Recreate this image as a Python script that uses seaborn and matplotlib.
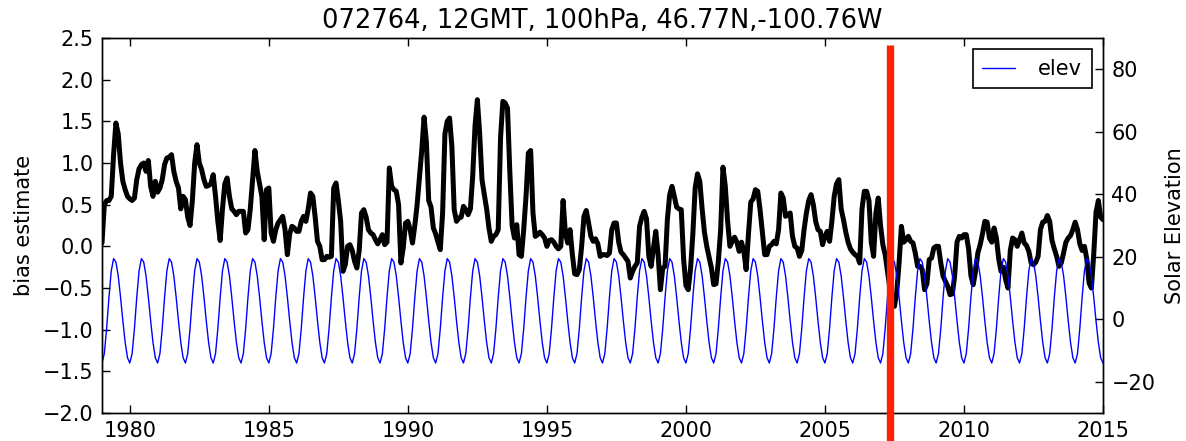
import numpy as np
import pandas as pd
import matplotlib
matplotlib.use("Agg")
import matplotlib.pyplot as plt
import seaborn as sns

# ---------------- data ----------------
title = "072764, 12GMT, 100hPa, 46.77N,-100.76W"
first_year = 1979
break_date = 2007.33  # red vertical marker

bias = [
    0.04, 0.50, 0.55, 0.55, 0.60, 1.10, 1.48, 1.35, 1.00, 0.78, 0.68, 0.60,   # 1979
    0.57, 0.55, 0.58, 0.80, 0.93, 0.98, 1.00, 0.90, 1.03, 0.72, 0.60, 0.78,   # 1980
    0.65, 0.70, 0.80, 0.98, 1.06, 1.07, 1.10, 0.90, 0.78, 0.70, 0.45, 0.60,   # 1981
    0.56, 0.35, 0.25, 0.55, 1.00, 1.22, 1.00, 0.92, 0.80, 0.72, 0.73, 0.75,   # 1982
    0.86, 0.60, 0.30, 0.07, 0.45, 0.75, 0.82, 0.60, 0.45, 0.42, 0.38, 0.42,   # 1983
    0.42, 0.42, 0.16, 0.20, 0.45, 0.80, 1.15, 0.90, 0.75, 0.60, 0.08, 0.68,   # 1984
    0.70, 0.16, 0.06, 0.20, 0.28, 0.32, 0.36, 0.20, -0.10, 0.15, 0.24, 0.22,  # 1985
    0.18, 0.18, 0.30, 0.36, 0.30, 0.45, 0.64, 0.60, 0.35, 0.06, 0.00, -0.16,  # 1986
    -0.16, -0.12, -0.13, -0.12, 0.70, 0.76, 0.55, 0.30, -0.30, -0.22, 0.00, 0.02,  # 1987
    -0.05, -0.18, -0.26, -0.05, 0.40, 0.44, 0.35, 0.20, 0.16, 0.14, 0.08, 0.03,   # 1988
    0.08, 0.14, 0.02, 0.05, 0.94, 0.72, 0.68, 0.66, 0.50, -0.20, -0.02, 0.28,  # 1989
    0.30, 0.20, 0.04, 0.25, 0.50, 0.82, 1.15, 1.55, 1.25, 0.55, 0.47, 0.22,   # 1990
    0.15, 0.05, -0.04, 0.40, 1.35, 1.50, 1.54, 1.20, 0.44, 0.30, 0.34, 0.35,  # 1991
    0.48, 0.44, 0.38, 0.45, 0.85, 1.45, 1.76, 1.35, 0.80, 0.62, 0.45, 0.22,   # 1992
    0.06, 0.12, 0.14, 0.20, 1.30, 1.74, 1.72, 1.66, 0.90, 0.25, 0.10, 0.26,   # 1993
    -0.10, -0.12, 0.20, 0.60, 1.12, 1.15, 0.40, 0.12, 0.14, 0.17, 0.14, 0.10,  # 1994
    0.00, 0.07, 0.08, 0.05, 0.00, -0.03, 0.00, 0.55, 0.15, 0.04, 0.20, -0.10,  # 1995
    -0.33, -0.34, -0.28, 0.00, 0.36, 0.43, 0.28, 0.12, 0.06, 0.09, 0.03, -0.12,  # 1996
    -0.10, -0.10, -0.11, -0.08, 0.20, 0.28, 0.28, 0.05, -0.07, -0.10, -0.14, -0.18,  # 1997
    -0.38, -0.30, -0.24, -0.20, 0.24, 0.35, 0.42, 0.33, -0.12, -0.24, -0.02, 0.18,  # 1998
    -0.10, -0.52, -0.26, -0.24, 0.32, 0.62, 0.72, 0.60, 0.47, 0.45, 0.44, -0.15,  # 1999
    -0.47, -0.52, -0.27, 0.15, 0.70, 0.87, 0.78, 0.45, 0.17, 0.00, -0.13, -0.26,  # 2000
    -0.46, -0.45, -0.18, 0.20, 0.95, 0.72, 0.30, 0.00, 0.06, 0.11, 0.05, -0.06,   # 2001
    0.05, -0.06, -0.28, 0.15, 0.53, 0.57, 0.68, 0.66, 0.44, 0.17, -0.10, -0.10,   # 2002
    0.00, 0.02, 0.06, 0.03, 0.20, 0.64, 0.58, 0.36, 0.38, 0.40, 0.12, 0.00,    # 2003
    -0.02, -0.12, -0.05, 0.20, 0.40, 0.55, 0.62, 0.50, 0.30, 0.20, 0.18, 0.02,  # 2004
    0.12, 0.18, 0.06, 0.30, 0.60, 0.75, 0.80, 0.45, 0.32, 0.17, 0.05, -0.03,   # 2005
    -0.07, -0.10, -0.12, -0.20, 0.45, 0.66, 0.66, 0.55, 0.05, -0.12, 0.40, 0.58,  # 2006
    0.25, 0.02, -0.10, -0.30, -0.50, -0.65, -0.72, -0.55, -0.20, 0.24, 0.05, 0.08,  # 2007
    0.12, 0.06, 0.04, -0.08, -0.24, -0.24, -0.28, -0.52, -0.45, -0.16, -0.14, -0.02,  # 2008
    0.00, 0.00, -0.20, -0.36, -0.42, -0.48, -0.58, -0.57, -0.35, 0.05, 0.12, 0.10,  # 2009
    0.14, 0.14, -0.03, -0.35, -0.46, -0.30, -0.08, 0.02, 0.15, 0.30, 0.29, 0.10,  # 2010
    0.05, 0.22, 0.10, -0.15, -0.30, -0.25, -0.40, -0.50, -0.05, 0.10, 0.08, 0.00,  # 2011
    0.08, 0.16, 0.04, 0.01, -0.06, -0.20, -0.22, -0.19, -0.12, 0.20, 0.29, 0.30,  # 2012
    0.37, 0.30, 0.07, -0.03, -0.12, -0.24, -0.20, -0.08, 0.05, 0.10, 0.13, 0.20,  # 2013
    0.29, 0.20, 0.03, -0.05, 0.00, -0.15, -0.44, -0.50, -0.10, 0.41, 0.55, 0.35,  # 2014
    0.32,                                                                     # 2015-01
]

elev = [
    -14.0, -11.0, -3.0, 7.0, 15.5, 19.4, 18.3, 13.9, 7.1, -0.5, -7.4, -12.3,  # 1979
    -14.0, -11.0, -3.0, 7.0, 15.5, 19.4, 18.3, 13.9, 7.1, -0.5, -7.4, -12.3,  # 1980
    -14.0, -11.0, -3.0, 7.0, 15.5, 19.4, 18.3, 13.9, 7.1, -0.5, -7.4, -12.3,  # 1981
    -14.0, -11.0, -3.0, 7.0, 15.5, 19.4, 18.3, 13.9, 7.1, -0.5, -7.4, -12.3,  # 1982
    -14.0, -11.0, -3.0, 7.0, 15.5, 19.4, 18.3, 13.9, 7.1, -0.5, -7.4, -12.3,  # 1983
    -14.0, -11.0, -3.0, 7.0, 15.5, 19.4, 18.3, 13.9, 7.1, -0.5, -7.4, -12.3,  # 1984
    -14.0, -11.0, -3.0, 7.0, 15.5, 19.4, 18.3, 13.9, 7.1, -0.5, -7.4, -12.3,  # 1985
    -14.0, -11.0, -3.0, 7.0, 15.5, 19.4, 18.3, 13.9, 7.1, -0.5, -7.4, -12.3,  # 1986
    -14.0, -11.0, -3.0, 7.0, 15.5, 19.4, 18.3, 13.9, 7.1, -0.5, -7.4, -12.3,  # 1987
    -14.0, -11.0, -3.0, 7.0, 15.5, 19.4, 18.3, 13.9, 7.1, -0.5, -7.4, -12.3,  # 1988
    -14.0, -11.0, -3.0, 7.0, 15.5, 19.4, 18.3, 13.9, 7.1, -0.5, -7.4, -12.3,  # 1989
    -14.0, -11.0, -3.0, 7.0, 15.5, 19.4, 18.3, 13.9, 7.1, -0.5, -7.4, -12.3,  # 1990
    -14.0, -11.0, -3.0, 7.0, 15.5, 19.4, 18.3, 13.9, 7.1, -0.5, -7.4, -12.3,  # 1991
    -14.0, -11.0, -3.0, 7.0, 15.5, 19.4, 18.3, 13.9, 7.1, -0.5, -7.4, -12.3,  # 1992
    -14.0, -11.0, -3.0, 7.0, 15.5, 19.4, 18.3, 13.9, 7.1, -0.5, -7.4, -12.3,  # 1993
    -14.0, -11.0, -3.0, 7.0, 15.5, 19.4, 18.3, 13.9, 7.1, -0.5, -7.4, -12.3,  # 1994
    -14.0, -11.0, -3.0, 7.0, 15.5, 19.4, 18.3, 13.9, 7.1, -0.5, -7.4, -12.3,  # 1995
    -14.0, -11.0, -3.0, 7.0, 15.5, 19.4, 18.3, 13.9, 7.1, -0.5, -7.4, -12.3,  # 1996
    -14.0, -11.0, -3.0, 7.0, 15.5, 19.4, 18.3, 13.9, 7.1, -0.5, -7.4, -12.3,  # 1997
    -14.0, -11.0, -3.0, 7.0, 15.5, 19.4, 18.3, 13.9, 7.1, -0.5, -7.4, -12.3,  # 1998
    -14.0, -11.0, -3.0, 7.0, 15.5, 19.4, 18.3, 13.9, 7.1, -0.5, -7.4, -12.3,  # 1999
    -14.0, -11.0, -3.0, 7.0, 15.5, 19.4, 18.3, 13.9, 7.1, -0.5, -7.4, -12.3,  # 2000
    -14.0, -11.0, -3.0, 7.0, 15.5, 19.4, 18.3, 13.9, 7.1, -0.5, -7.4, -12.3,  # 2001
    -14.0, -11.0, -3.0, 7.0, 15.5, 19.4, 18.3, 13.9, 7.1, -0.5, -7.4, -12.3,  # 2002
    -14.0, -11.0, -3.0, 7.0, 15.5, 19.4, 18.3, 13.9, 7.1, -0.5, -7.4, -12.3,  # 2003
    -14.0, -11.0, -3.0, 7.0, 15.5, 19.4, 18.3, 13.9, 7.1, -0.5, -7.4, -12.3,  # 2004
    -14.0, -11.0, -3.0, 7.0, 15.5, 19.4, 18.3, 13.9, 7.1, -0.5, -7.4, -12.3,  # 2005
    -14.0, -11.0, -3.0, 7.0, 15.5, 19.4, 18.3, 13.9, 7.1, -0.5, -7.4, -12.3,  # 2006
    -14.0, -11.0, -3.0, 7.0, 15.5, 19.4, 18.3, 13.9, 7.1, -0.5, -7.4, -12.3,  # 2007
    -14.0, -11.0, -3.0, 7.0, 15.5, 19.4, 18.3, 13.9, 7.1, -0.5, -7.4, -12.3,  # 2008
    -14.0, -11.0, -3.0, 7.0, 15.5, 19.4, 18.3, 13.9, 7.1, -0.5, -7.4, -12.3,  # 2009
    -14.0, -11.0, -3.0, 7.0, 15.5, 19.4, 18.3, 13.9, 7.1, -0.5, -7.4, -12.3,  # 2010
    -14.0, -11.0, -3.0, 7.0, 15.5, 19.4, 18.3, 13.9, 7.1, -0.5, -7.4, -12.3,  # 2011
    -14.0, -11.0, -3.0, 7.0, 15.5, 19.4, 18.3, 13.9, 7.1, -0.5, -7.4, -12.3,  # 2012
    -14.0, -11.0, -3.0, 7.0, 15.5, 19.4, 18.3, 13.9, 7.1, -0.5, -7.4, -12.3,  # 2013
    -14.0, -11.0, -3.0, 7.0, 15.5, 19.4, 18.3, 13.9, 7.1, -0.5, -7.4, -12.3,  # 2014
    -14.0,                                                                     # 2015-01
]

left_ticks = [-2.0, -1.5, -1.0, -0.5, 0.0, 0.5, 1.0, 1.5, 2.0, 2.5]
right_ticks = [-20, 0, 20, 40, 60, 80]
x_ticks = [1980, 1985, 1990, 1995, 2000, 2005, 2010, 2015]

# ---------------- figure ----------------
sns.set_style("ticks", {"xtick.direction": "in", "ytick.direction": "in",
                        "axes.edgecolor": "black", "text.color": "black",
                        "axes.labelcolor": "black", "xtick.color": "black",
                        "ytick.color": "black"})
plt.rcParams["font.family"] = ["DejaVu Sans"]
plt.rcParams["axes.unicode_minus"] = True

# decimal-year time axis: one value per month
t = first_year + np.arange(len(bias)) / 12.0
df = pd.DataFrame({"time": t, "bias": bias, "elev": elev})

fig = plt.figure(figsize=(11.86, 4.41), dpi=100)
ax = fig.add_axes([0.0860, 0.0635, 0.8440, 0.8503])
ax2 = ax.twinx()

sns.lineplot(data=df, x="time", y="bias", ax=ax, color="black",
             linewidth=3.6, estimator=None, sort=False)
sns.lineplot(data=df, x="time", y="elev", ax=ax2, color="blue",
             linewidth=1.0, estimator=None, sort=False, label="elev")

# red break marker (extends below the axes, as in the reference)
ax2.plot([break_date, break_date], [-45, 87.7], color="#ff2200",
         linewidth=5.3, solid_capstyle="butt", clip_on=False, zorder=5)

ax.set_xlim(1979, 2015)
ax.set_ylim(-2.0, 2.5)
ax2.set_ylim(-30, 90)

ax.set_xticks(x_ticks)
ax.set_yticks(left_ticks)
ax.set_yticklabels([f"{v:.1f}".replace("-", "\u2212") for v in left_ticks])
ax2.set_yticks(right_ticks)

fs = 15
ax.tick_params(axis="x", which="major", direction="in", top=True, bottom=True,
               length=6, width=1, labelsize=fs, pad=6, colors="black")
ax.tick_params(axis="y", which="major", direction="in", left=True, right=False,
               length=6, width=1, labelsize=fs, pad=6, colors="black")
ax2.tick_params(axis="y", which="major", direction="in", right=True, left=False,
                length=6, width=1, labelsize=fs, pad=6, colors="black")

ax.set_xlabel("")
ax.set_ylabel("bias estimate", fontsize=15, color="black")
ax2.set_ylabel("Solar Elevation", fontsize=15, color="black")
ax.yaxis.set_label_coords(-0.068, 0.5)
ax2.yaxis.set_label_coords(1.062, 0.5)
ax.set_title(title, fontsize=18.5, pad=7, color="black")

for a in (ax, ax2):
    for s in a.spines.values():
        s.set_color("black")
        s.set_linewidth(1.0)

leg = ax2.legend(loc="upper right", fontsize=15, frameon=True, fancybox=False,
                 edgecolor="black", framealpha=1.0, handlelength=1.6,
                 borderpad=0.45, handletextpad=1.1, borderaxespad=0.55)
leg.get_frame().set_linewidth(1.2)
for txt in leg.get_texts():
    txt.set_color("black")

fig.savefig("out.png", dpi=100)
